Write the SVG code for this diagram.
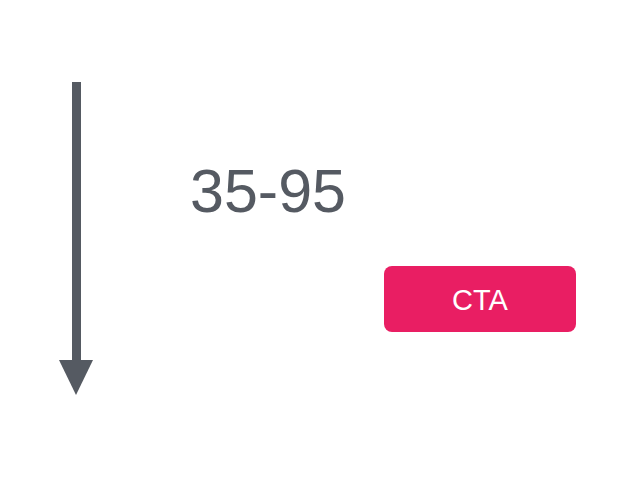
<svg xmlns="http://www.w3.org/2000/svg" width="638" height="479" viewBox="0 0 638 479">
<style>
.lbl{font-family:"Liberation Sans",Arial,sans-serif;}
</style>
<rect width="638" height="479" fill="#ffffff"/>
<g id="connectors">
<rect x="72" y="82" width="9" height="280" fill="#555a62"/>
<polygon points="59,360 93,360 76,395" fill="#555a62"/>
</g>
<g id="range">
<text class="lbl" x="268" y="212" font-size="61" fill="#555a62" text-anchor="middle">35-95</text>
</g>
<g id="cta">
<rect x="384" y="266" width="192" height="66" rx="8" fill="#e91e63"/>
<text class="lbl" x="480" y="310" font-size="29" fill="#ffffff" text-anchor="middle">CTA</text>
</g>
</svg>
